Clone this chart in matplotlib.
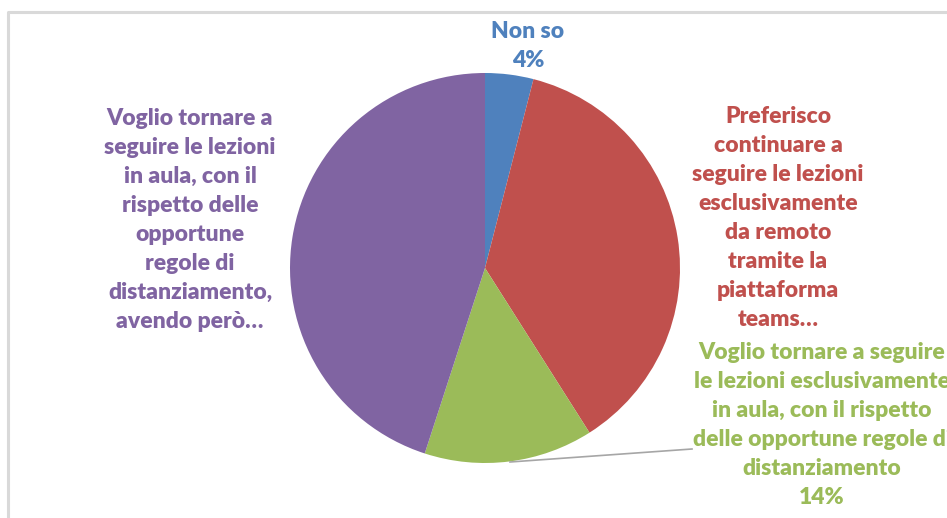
import matplotlib
matplotlib.use('Agg')
import matplotlib.pyplot as plt

# dati
labels = ["Non so",
          "Preferisco\ncontinuare a\nseguire le lezioni\nesclusivamente\nda remoto\ntramite la\npiattaforma\nteams…",
          "Voglio tornare a seguire\nle lezioni esclusivamente\nin aula, con il rispetto\ndelle opportune regole di\ndistanziamento",
          "Voglio tornare a\nseguire le lezioni\nin aula, con il\nrispetto delle\nopportune\nregole di\ndistanziamento,\navendo però…"]
values = [4, 37, 14, 45]
show_pct = [True, False, True, False]
colors = ['#4F81BD', '#C0504D', '#9BBB59', '#8064A2']

W, H = 947, 518
fig = plt.figure(figsize=(W / 100, H / 100), dpi=100)
ax = fig.add_axes([0, 0, 1, 1])

cx, cy, r = 485, H - 268, 195
ax.pie(values, colors=colors, startangle=90, counterclock=False,
       center=(cx, cy), radius=r, frame=True,
       wedgeprops=dict(linewidth=0))
ax.set_xlim(0, W)
ax.set_ylim(0, H)
ax.set_aspect('equal')
ax.axis('off')

# cornice
ax.plot([8, 8, W], [0, H - 12, H - 12], color='#D9D9D9', lw=2.2, clip_on=False)

# etichette (x, y in pixel dall'alto)
pos = [(528, 46), (778, 218), (822, 425), (190, 220)]
for lab, v, sp, c, (x, y) in zip(labels, values, show_pct, colors, pos):
    txt = lab + (f"\n{v}%" if sp else "")
    ax.text(x, H - y, txt, ha='center', va='center', color=c,
            fontsize=16.5, fontweight='heavy', family=['Lato', 'DejaVu Sans'],
            linespacing=1.47, clip_on=False)

# linea guida fetta verde
ax.plot([510, 692], [H - 462, H - 449], color='#A6A6A6', lw=1.2)

fig.savefig('out.png', dpi=100)
